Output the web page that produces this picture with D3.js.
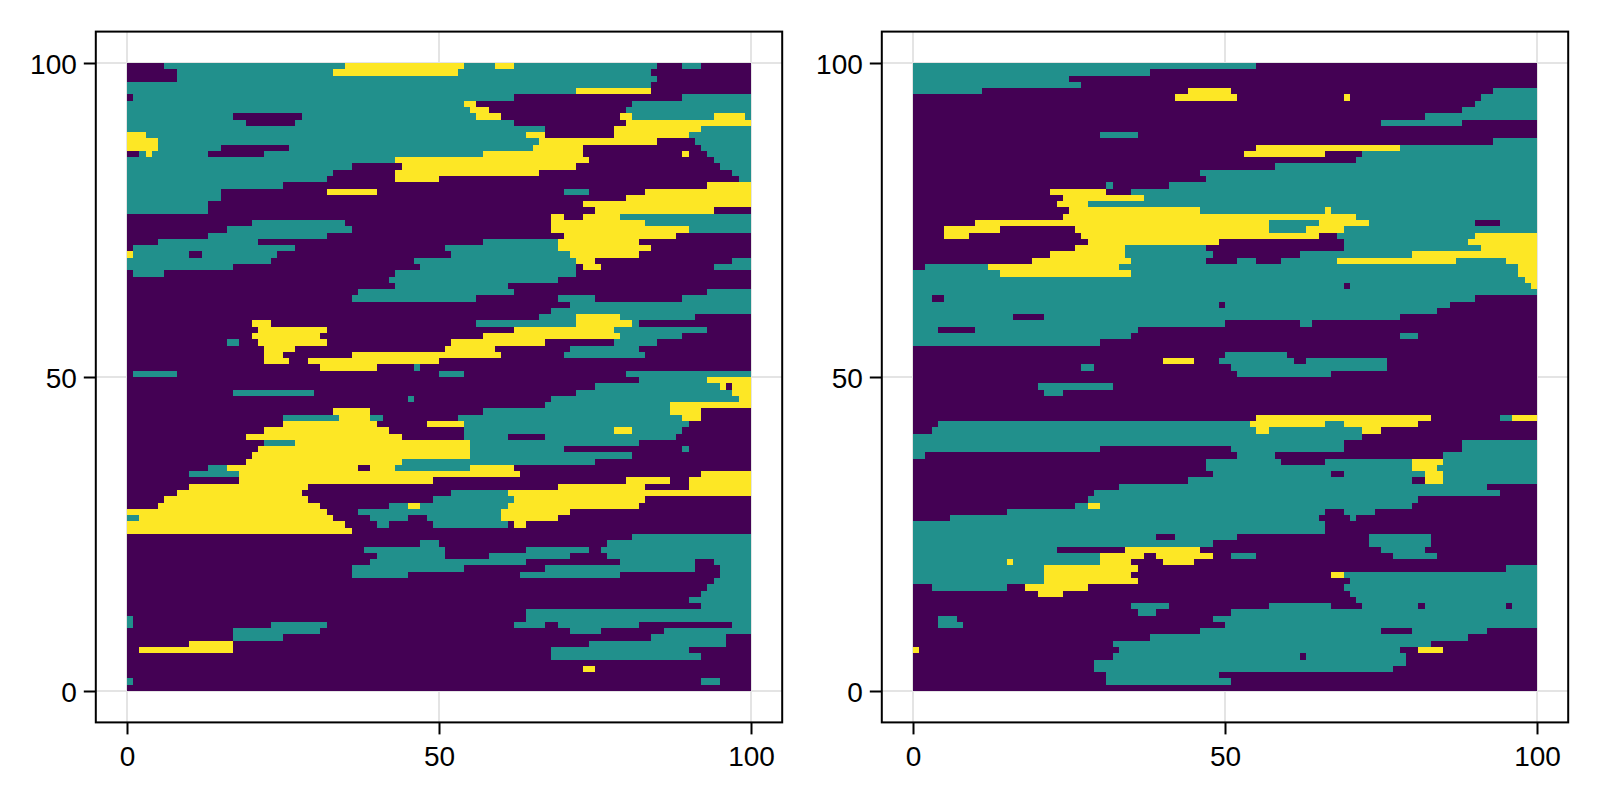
<!DOCTYPE html>
<html>
<head>
<meta charset="utf-8">
<script src="https://cdn.jsdelivr.net/npm/d3@7"></script>
<style>
  html, body { margin: 0; padding: 0; background: #fff; }
  svg { display: block; }
  text { font-family: "Liberation Sans", sans-serif; }
</style>
</head>
<body>
<svg id="chart" width="1600" height="800"></svg>
<script>
// each row runs top (y=100) to bottom, written as value:endColumn
var rowsLeft = [
"0:6 1:35 2:54 1:59 2:62 1:85 0:89 1:92 0:100",
"0:8 1:33 2:53 1:84 0:100",
"0:8 1:85 0:100",
"1:84 0:100",
"1:72 2:84 0:100",
"0:1 1:62 0:89 1:100",
"1:54 2:56 0:81 1:100",
"1:55 2:58 0:80 1:100",
"1:17 0:28 1:56 2:60 0:79 2:81 1:94 2:99 1:100",
"1:19 0:27 1:62 0:80 2:100",
"1:67 0:78 2:92 1:100",
"2:3 1:64 2:67 0:78 2:90 1:100",
"2:5 1:66 2:85 0:91 1:100",
"2:5 1:15 0:26 1:65 2:73 0:92 1:100",
"0:2 1:3 2:4 1:13 0:22 1:57 2:73 0:89 2:90 0:93 1:100",
"1:43 2:74 0:94 1:100",
"1:36 0:44 2:72 0:95 1:100",
"1:33 0:43 2:66 0:97 1:100",
"1:32 0:43 2:50 0:98 1:100",
"1:25 0:93 2:100",
"1:15 0:32 2:40 0:70 1:74 0:83 2:100",
"1:15 0:80 2:100",
"1:13 0:73 2:100",
"1:13 0:75 2:94 0:100",
"0:68 2:70 0:73 2:79 1:100",
"0:20 1:35 0:68 2:83 1:100",
"0:16 1:36 0:68 2:90 1:100",
"0:13 1:32 0:70 2:88 0:100",
"0:5 1:21 0:57 1:69 2:82 0:100",
"0:1 1:27 0:51 1:69 2:84 0:100",
"2:1 1:10 0:12 1:24 0:52 1:71 2:82 0:100",
"1:23 0:46 1:72 2:75 0:97 1:100",
"1:17 0:47 1:72 0:73 2:76 0:94 1:100",
"0:1 1:6 0:43 1:72 0:100",
"0:42 1:69 0:100",
"0:43 1:61 0:100",
"0:37 1:62 0:93 1:100",
"0:36 1:56 0:69 1:75 0:89 1:100",
"0:71 1:100",
"0:68 1:100",
"0:66 1:72 2:79 1:91 0:100",
"0:20 2:23 0:56 1:72 2:81 1:82 0:100",
"0:21 2:32 0:62 2:78 1:93 0:100",
"0:20 2:31 0:57 2:79 1:89 0:100",
"0:16 1:18 0:21 2:32 0:52 2:67 0:78 1:85 0:100",
"0:22 2:27 0:51 2:59 0:71 1:82 0:100",
"0:22 2:25 0:36 2:60 0:70 1:83 0:100",
"0:22 2:26 0:29 2:50 0:100",
"0:31 2:40 0:46 1:47 0:100",
"0:1 1:8 0:50 1:54 0:80 1:100",
"0:82 1:93 2:100",
"0:75 1:95 2:96 0:97 2:100",
"0:17 1:30 0:72 1:97 2:100",
"0:45 1:46 0:68 1:98 2:100",
"0:67 1:87 2:100",
"0:33 2:39 0:57 1:87 2:92 0:100",
"0:25 1:34 2:39 1:41 0:53 1:89 2:92 0:100",
"0:25 2:40 0:48 2:54 1:90 0:100",
"0:22 2:42 0:54 1:78 2:81 1:89 0:100",
"0:19 2:44 0:54 1:61 0:67 1:88 0:100",
"0:22 1:27 2:55 1:82 0:100",
"0:21 2:55 1:70 0:89 1:90 0:100",
"0:20 2:55 1:81 0:100",
"0:19 2:44 1:75 0:100",
"0:13 1:16 2:37 0:39 2:43 1:55 2:62 0:100",
"0:10 1:18 2:63 0:92 2:100",
"0:18 2:49 0:80 2:87 0:90 2:100",
"0:10 2:29 0:69 2:83 0:90 2:100",
"0:8 2:28 0:52 1:61 2:100",
"0:6 2:29 0:49 1:62 2:83 0:100",
"0:5 2:31 0:42 1:45 2:47 1:61 2:82 0:100",
"2:32 0:37 1:60 2:71 0:100",
"1:2 2:33 0:39 1:45 0:48 1:60 2:69 0:100",
"2:35 0:40 1:42 0:49 1:61 0:62 2:64 0:100",
"2:36 0:100",
"0:81 1:100",
"0:47 1:50 0:77 1:100",
"0:38 1:51 0:64 1:74 0:76 1:100",
"0:40 1:51 0:58 1:71 0:77 1:100",
"0:39 1:64 0:79 1:91 0:94 1:100",
"0:36 1:54 0:67 1:91 0:95 1:100",
"0:36 1:45 0:63 1:79 0:95 1:100",
"0:94 1:100",
"0:93 1:100",
"0:92 1:100",
"0:90 1:100",
"0:92 1:100",
"0:64 1:100",
"1:1 0:64 1:100",
"1:1 0:23 1:32 0:62 1:67 0:69 1:82 0:97 1:100",
"0:17 1:31 0:71 1:76 0:86 1:100",
"0:17 1:25 0:84 1:96 0:100",
"0:10 2:17 0:74 1:96 0:100",
"0:2 2:17 0:68 1:90 0:100",
"0:68 1:92 0:100",
"0:100",
"0:73 2:75 0:100",
"0:100",
"1:1 0:92 1:95 0:100",
"0:100"
];

var rowsRight = [
"1:55 0:100",
"1:38 0:100",
"1:25 0:100",
"1:27 0:100",
"1:11 0:44 2:51 0:93 1:100",
"0:42 2:52 0:69 2:70 0:91 1:100",
"0:90 1:100",
"0:88 1:100",
"0:82 1:100",
"0:75 1:88 0:100",
"0:100",
"0:30 1:36 0:100",
"0:93 1:100",
"0:55 2:78 1:100",
"0:53 2:66 0:72 1:100",
"0:71 1:100",
"0:58 1:100",
"0:46 1:100",
"0:47 1:100",
"0:31 1:32 0:41 1:100",
"0:22 2:31 0:35 1:100",
"0:24 2:37 1:100",
"0:23 2:28 1:100",
"0:25 2:46 1:66 2:67 1:100",
"0:24 2:71 1:100",
"0:10 2:57 1:65 2:73 1:90 0:94 1:100",
"0:5 2:14 0:26 2:57 1:63 2:69 1:100",
"0:5 2:9 0:27 2:65 0:68 1:90 2:100",
"0:28 2:49 0:69 1:89 2:100",
"0:26 2:34 1:47 0:69 1:91 2:100",
"0:22 2:34 1:48 0:62 1:80 2:100",
"0:19 2:35 1:47 0:52 1:55 0:59 1:68 2:87 1:95 2:100",
"0:2 1:12 2:33 1:97 2:100",
"1:14 2:35 1:97 2:100",
"1:98 2:100",
"1:69 0:70 1:99 2:100",
"1:100",
"1:3 0:5 1:90 0:100",
"1:49 0:50 1:86 0:100",
"1:84 0:100",
"1:16 0:21 1:78 0:100",
"1:50 0:62 1:64 0:100",
"1:4 0:10 1:36 0:100",
"1:35 0:78 1:81 0:100",
"1:30 0:100",
"0:100",
"0:50 1:60 0:100",
"0:40 2:45 0:49 1:61 0:63 1:76 0:100",
"0:27 1:29 0:51 1:76 0:100",
"0:52 1:67 0:100",
"0:100",
"0:20 1:32 0:100",
"0:21 1:24 0:100",
"0:100",
"0:100",
"0:100",
"0:55 2:83 0:94 1:96 2:100",
"0:4 1:54 2:66 1:69 2:81 0:100",
"0:3 1:55 2:57 1:72 2:75 0:100",
"1:72 0:100",
"1:69 0:88 1:100",
"1:30 0:51 1:69 0:88 1:100",
"1:2 0:52 1:58 0:85 1:100",
"0:47 1:59 0:66 1:80 2:85 1:100",
"0:47 1:80 2:84 1:100",
"0:48 1:67 0:69 1:82 2:85 1:100",
"0:44 1:80 0:82 2:85 1:100",
"0:33 1:92 0:100",
"0:29 1:94 0:100",
"0:28 1:81 0:100",
"0:26 1:28 2:30 1:80 0:100",
"0:15 1:66 0:69 1:74 0:100",
"0:6 1:65 0:70 1:71 0:100",
"1:66 0:100",
"1:66 0:100",
"1:39 0:42 1:52 0:73 1:83 0:100",
"1:48 0:73 1:83 0:100",
"1:23 0:34 2:46 0:75 1:82 0:100",
"1:30 2:37 0:39 2:48 0:51 1:55 0:77 1:84 0:100",
"1:15 2:16 1:30 2:35 0:40 2:45 0:100",
"1:21 2:36 0:95 1:100",
"1:21 2:35 0:67 2:69 1:100",
"1:21 2:36 0:70 1:100",
"0:3 1:15 0:18 2:28 0:69 1:100",
"0:20 2:24 0:70 1:100",
"0:71 1:100",
"0:35 1:41 0:57 1:67 0:72 1:81 0:82 1:95 0:96 1:100",
"0:36 1:39 0:51 1:100",
"0:4 1:7 0:48 1:100",
"0:4 1:8 0:50 1:100",
"0:46 1:75 0:80 1:92 0:100",
"0:38 1:89 0:100",
"0:32 1:83 0:100",
"2:1 0:33 1:78 0:81 2:85 0:100",
"0:32 1:62 0:63 1:79 0:100",
"0:29 1:79 0:100",
"0:29 1:77 0:100",
"0:31 1:49 0:100",
"0:31 1:51 0:100",
"0:100"
];

var tickValues = [0, 50, 100];
var cellColors = ["#440154", "#21908c", "#fde725"];

var svg = d3.select("#chart");

var color = d3.scaleOrdinal().domain([0, 1, 2]).range(cellColors);
var yScale = d3.scaleLinear().domain([-5, 105]).range([722.4, 31.6]);

// turn "0:6 1:35" into {v, x0, x1, row} pieces
function parseRuns(rows) {
  var runs = [];
  rows.forEach(function(r, j) {
    var start = 0;
    r.split(" ").forEach(function(p) {
      var bits = p.split(":");
      runs.push({ v: +bits[0], x0: start, x1: +bits[1], top: 100 - j, bottom: 99 - j });
      start = +bits[1];
    });
  });
  return runs;
}

function drawPanel(rows, left, right) {
  var xScale = d3.scaleLinear().domain([-5, 105]).range([left, right]);
  var g = svg.append("g");

  // grid is under the heatmap, only shows in the margins
  g.selectAll(".gx").data(tickValues).enter().append("line")
    .attr("x1", xScale).attr("x2", xScale)
    .attr("y1", yScale(-5)).attr("y2", yScale(105))
    .attr("stroke", "#e4e4e4").attr("stroke-width", 2);
  g.selectAll(".gy").data(tickValues).enter().append("line")
    .attr("y1", yScale).attr("y2", yScale)
    .attr("x1", left).attr("x2", right)
    .attr("stroke", "#e4e4e4").attr("stroke-width", 2);

  g.selectAll("rect.cell").data(parseRuns(rows)).enter().append("rect")
    .attr("class", "cell")
    .attr("x", function(d) { return xScale(d.x0); })
    .attr("y", function(d) { return yScale(d.top); })
    .attr("width", function(d) { return xScale(d.x1) - xScale(d.x0); })
    .attr("height", function(d) { return yScale(d.bottom) - yScale(d.top); })
    .attr("fill", function(d) { return color(d.v); })
    .attr("shape-rendering", "crispEdges");

  var xAxis = d3.axisBottom(xScale).tickValues(tickValues).tickFormat(d3.format("d"))
    .tickSize(12).tickSizeOuter(0).tickPadding(12);
  var yAxis = d3.axisLeft(yScale).tickValues(tickValues).tickFormat(d3.format("d"))
    .tickSize(12).tickSizeOuter(0).tickPadding(7);

  var gx = g.append("g").attr("transform", "translate(0," + yScale(-5) + ")").call(xAxis);
  var gy = g.append("g").attr("transform", "translate(" + left + ",0)").call(yAxis);
  g.selectAll(".domain").remove();
  [gx, gy].forEach(function(a) {
    a.selectAll("line").attr("stroke", "#000").attr("stroke-width", 2);
    a.selectAll("text").attr("fill", "#000").style("font-size", "28px");
  });
  gy.selectAll("text").attr("dy", "0.36em");

  g.append("rect")
    .attr("x", left).attr("y", yScale(105))
    .attr("width", right - left).attr("height", yScale(-5) - yScale(105))
    .attr("fill", "none").attr("stroke", "#000").attr("stroke-width", 2);
}

drawPanel(rowsLeft, 95.8, 782.2);
drawPanel(rowsRight, 881.8, 1568.2);
</script>
</body>
</html>
